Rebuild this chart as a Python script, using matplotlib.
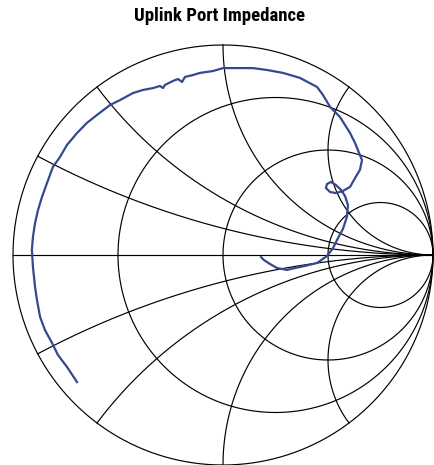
import numpy as np
import matplotlib
matplotlib.use("Agg")
import matplotlib.pyplot as plt

title = "Uplink Port Impedance"

# smith chart grid values (normalised)
r_circles = [1/3, 1, 3]
x_arcs = [0.25, 0.5, 1, 2, -0.25, -0.5, -1, -2]

gamma_re = [-0.695, -0.743, -0.786, -0.814, -0.848, -0.871, -0.886, -0.895, -0.905, -0.910,
            -0.905, -0.895, -0.881, -0.862, -0.838, -0.810, -0.776, -0.743, -0.695, -0.648,
            -0.600, -0.538, -0.490, -0.429, -0.381, -0.333, -0.300, -0.286, -0.276, -0.238,
            -0.214, -0.195, -0.181, -0.143, -0.110, -0.048, 0.000, 0.048, 0.143, 0.210,
            0.286, 0.367, 0.448, 0.476, 0.510, 0.557, 0.581, 0.605, 0.629, 0.648,
            0.662, 0.652, 0.629, 0.605, 0.571, 0.538, 0.510, 0.490, 0.495, 0.514,
            0.538, 0.562, 0.581, 0.595, 0.590, 0.571, 0.548, 0.524, 0.495, 0.448,
            0.390, 0.343, 0.305, 0.257, 0.224, 0.195, 0.181]
gamma_im = [-0.605, -0.533, -0.476, -0.419, -0.357, -0.295, -0.214, -0.152, -0.057, 0.024,
            0.086, 0.152, 0.214, 0.276, 0.343, 0.419, 0.467, 0.524, 0.581, 0.629,
            0.667, 0.714, 0.738, 0.771, 0.786, 0.795, 0.805, 0.795, 0.810, 0.829,
            0.838, 0.824, 0.848, 0.857, 0.867, 0.876, 0.890, 0.890, 0.890, 0.881,
            0.867, 0.843, 0.800, 0.762, 0.705, 0.657, 0.619, 0.581, 0.533, 0.486,
            0.452, 0.405, 0.367, 0.324, 0.305, 0.295, 0.300, 0.319, 0.338, 0.348,
            0.333, 0.310, 0.281, 0.238, 0.181, 0.124, 0.081, 0.033, -0.005, -0.038,
            -0.052, -0.062, -0.071, -0.062, -0.043, -0.024, -0.010]


def to_gamma(z):
    return (z - 1) / (z + 1)


fig = plt.figure(figsize=(4.34, 4.65), dpi=100)
ax = fig.add_axes([13/434, 0, 420/434, 420/465])
ax.set_xlim(-1, 1)
ax.set_ylim(-1, 1)
ax.set_aspect("equal")
ax.axis("off")

grid_kw = dict(color="black", lw=0.85, clip_on=False)

# outer circle (r = 0)
t = np.linspace(0, 2*np.pi, 721)
ax.plot(np.cos(t), np.sin(t), **grid_kw)
# real axis
ax.plot([-1, 1], [0, 0], **grid_kw)

# constant resistance circles
xs = np.tan(np.linspace(-np.pi/2 + 1e-4, np.pi/2 - 1e-4, 2001))
for r in r_circles:
    g = to_gamma(r + 1j*xs)
    ax.plot(g.real, g.imag, **grid_kw)

# constant reactance arcs
rs = np.concatenate([np.linspace(0, 1, 200), np.logspace(0, 5, 800)])
for x in x_arcs:
    g = to_gamma(rs + 1j*x)
    ax.plot(g.real, g.imag, **grid_kw)

ax.plot(gamma_re, gamma_im, color="#34498e", lw=1.6, solid_joinstyle="round")

fig.text(220/434, 1 - 16/465, title, ha="center", va="center",
         fontsize=13.5, fontweight="bold",
         family=["Roboto Condensed", "DejaVu Sans"])

fig.savefig("out.png", dpi=100)
